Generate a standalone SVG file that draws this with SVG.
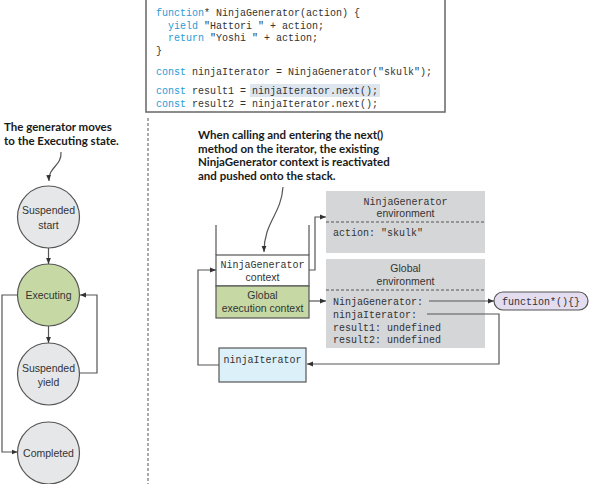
<svg xmlns="http://www.w3.org/2000/svg" width="590" height="484" viewBox="0 0 590 484">
<style>
.mono{font-family:"Liberation Mono",monospace;font-size:10px;fill:#333}
.kw{fill:#2a9ad6}
.sans{font-family:"Liberation Sans",Arial,sans-serif;font-size:10.5px;fill:#333}
.note{font-family:Lato,"Liberation Sans",sans-serif;font-weight:bold;font-size:11.5px;fill:#1a1a1a}
.circ{fill:#e6e7e8;stroke:#555;stroke-width:1.2}
.conn{fill:none;stroke:#555;stroke-width:1.2}
.dash{fill:none;stroke:#555;stroke-width:1;stroke-dasharray:3 2}
.env{fill:#d5d6d8}
</style>
<defs>
<marker id="ah" viewBox="0 0 10 10" refX="10" refY="5" markerWidth="6" markerHeight="6" markerUnits="userSpaceOnUse" orient="auto">
<path d="M0,1 L10,5 L0,9 Z" fill="#333"/>
</marker>
</defs>

<g id="code">
<rect x="146" y="-1" width="299" height="113" fill="#fff" stroke="#666" stroke-width="1.5"/>
<rect x="250" y="84" width="130" height="13" fill="#dde6ef"/>
<text class="mono" x="156" y="16"><tspan class="kw">function</tspan>* NinjaGenerator(action) {</text>
<text class="mono" x="168" y="29"><tspan class="kw">yield</tspan> "Hattori " + action;</text>
<text class="mono" x="168" y="41"><tspan class="kw">return</tspan> "Yoshi " + action;</text>
<text class="mono" x="156" y="54">}</text>
<text class="mono" x="156" y="75"><tspan class="kw">const</tspan> ninjaIterator = NinjaGenerator("skulk");</text>
<text class="mono" x="156" y="94"><tspan class="kw">const</tspan> result1 = ninjaIterator.next();</text>
<text class="mono" x="156" y="107"><tspan class="kw">const</tspan> result2 = ninjaIterator.next();</text>
</g>

<line class="dash" x1="148" y1="118" x2="148" y2="484"/>

<g id="note-left">
<text class="note" x="4" y="131">The generator moves</text>
<text class="note" x="4" y="145">to the Executing state.</text>
</g>

<g id="note-right">
<text class="note" x="198" y="139">When calling and entering the next()</text>
<text class="note" x="198" y="152.5">method on the iterator, the existing</text>
<text class="note" x="198" y="166">NinjaGenerator context is reactivated</text>
<text class="note" x="198" y="179.5">and pushed onto the stack.</text>
</g>

<g id="suspended-start">
<circle class="circ" cx="48.5" cy="217" r="31"/>
<text class="sans" x="48.5" y="214" text-anchor="middle">Suspended</text>
<text class="sans" x="48.5" y="229" text-anchor="middle">start</text>
</g>
<g id="executing">
<circle class="circ" cx="48.5" cy="295" r="31" style="fill:#c6d9a5"/>
<text class="sans" x="48.5" y="298.5" text-anchor="middle">Executing</text>
</g>
<g id="suspended-yield">
<circle class="circ" cx="48.5" cy="374" r="31"/>
<text class="sans" x="48.5" y="371.5" text-anchor="middle">Suspended</text>
<text class="sans" x="48.5" y="386" text-anchor="middle">yield</text>
</g>
<g id="completed">
<circle class="circ" cx="48.5" cy="453" r="31"/>
<text class="sans" x="48.5" y="456.5" text-anchor="middle">Completed</text>
</g>

<g id="stack">
<line class="conn" x1="216" y1="225" x2="216" y2="255"/>
<line class="conn" x1="309" y1="225" x2="309" y2="255"/>
<rect x="216" y="255" width="93" height="31" fill="#fff" stroke="#555" stroke-width="1.2"/>
<text class="mono" x="262.5" y="267.5" text-anchor="middle">NinjaGenerator</text>
<text class="sans" x="262.5" y="281" text-anchor="middle">context</text>
</g>
<g id="global-context">
<rect x="216" y="286" width="93" height="32" fill="#c6d9a5" stroke="#555" stroke-width="1.2"/>
<text class="sans" x="262.5" y="298.5" text-anchor="middle">Global</text>
<text class="sans" x="262.5" y="312" text-anchor="middle">execution context</text>
</g>

<g id="ninjaIterator">
<rect x="219" y="348" width="87" height="34" fill="#dcf0fa" stroke="#555" stroke-width="1.2"/>
<text class="mono" x="262.5" y="362.5" text-anchor="middle">ninjaIterator</text>
</g>

<g id="ninja-env">
<rect class="env" x="326" y="191" width="159" height="62"/>
<text class="mono" x="405.5" y="204.5" text-anchor="middle">NinjaGenerator</text>
<text class="sans" x="405.5" y="217" text-anchor="middle">environment</text>
<line class="dash" x1="326" y1="222" x2="485" y2="222"/>
<text class="mono" x="333" y="235.5">action: "skulk"</text>
</g>

<g id="global-env">
<rect class="env" x="326" y="259" width="159" height="89"/>
<text class="sans" x="405.5" y="272" text-anchor="middle">Global</text>
<text class="sans" x="405.5" y="285" text-anchor="middle">environment</text>
<line class="dash" x1="326" y1="290" x2="485" y2="290"/>
<text class="mono" x="333" y="304.5">NinjaGenerator:</text>
<text class="mono" x="333" y="317.5">ninjaIterator:</text>
<text class="mono" x="333" y="330.5">result1: undefined</text>
<text class="mono" x="333" y="342.5">result2: undefined</text>
</g>

<g id="function-obj">
<rect x="494" y="292" width="94" height="18" rx="9" fill="#e4dcef" stroke="#555" stroke-width="1.2"/>
<text class="mono" x="541" y="304.5" text-anchor="middle">function*(){}</text>
</g>

<g id="connectors">
<path class="conn" d="M61,152 C62,166 48,167 49,181" marker-end="url(#ah)"/>
<path class="conn" d="M48.5,248 L48.5,264" marker-end="url(#ah)"/>
<path class="conn" d="M48.5,326 L48.5,343" marker-end="url(#ah)"/>
<path class="conn" d="M79.5,373 L97,373 L97,295 L80,295" marker-end="url(#ah)"/>
<path class="conn" d="M17.5,295 L2,295 L2,452 L17.5,452" marker-end="url(#ah)"/>
<path class="conn" d="M283,187 C281,215 264,222 264,252" marker-end="url(#ah)"/>
<path class="conn" d="M219,365 L198,365 L198,270 L216,270" marker-end="url(#ah)"/>
<path class="conn" d="M309,270 L315,270 L315,217 L326,217" marker-end="url(#ah)"/>
<path class="conn" d="M309,301 L326,301" marker-end="url(#ah)"/>
<path class="conn" d="M429,301 L494,301" marker-end="url(#ah)"/>
<path class="conn" d="M427,314 L499,314 L499,364 L307,364" marker-end="url(#ah)"/>
</g>
</svg>
